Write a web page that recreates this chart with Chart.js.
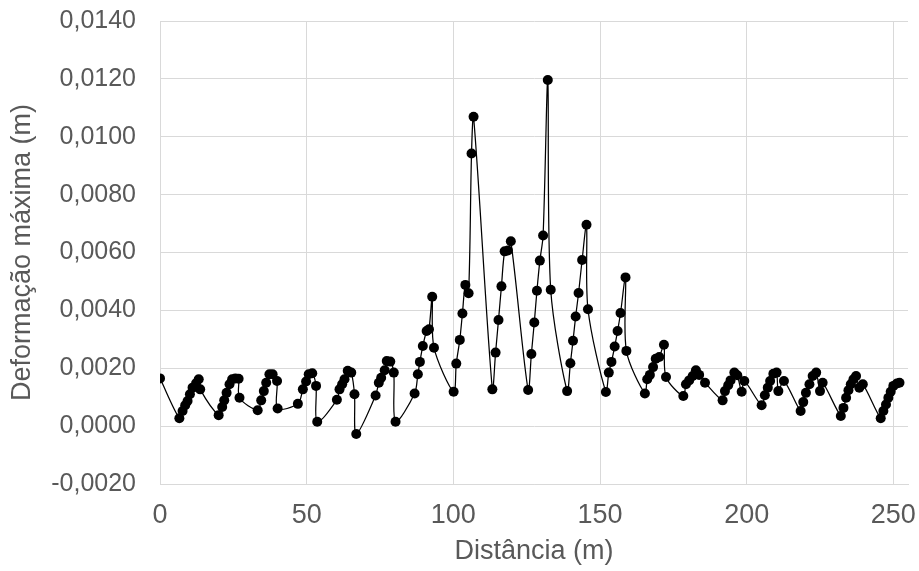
<!DOCTYPE html>
<html lang="pt">
<head>
<meta charset="utf-8">
<title>Deformação máxima</title>
<script src="https://cdn.jsdelivr.net/npm/chart.js"></script>
<style>
  html, body { margin: 0; padding: 0; background: #fff; }
</style>
</head>
<body>
<canvas id="graficoDeformacao" width="919" height="571"></canvas>
<script>
// distância ao longo da via (m)
const distancia = [
  0, 6.6, 7.7, 8.6, 9.4, 10.2, 11.1, 12.3, 13.2, 13.7,
  20.0, 21.2, 21.9, 22.7, 23.7, 24.6, 25.7, 26.8, 27.1,
  33.3, 34.5, 35.4, 36.2, 37.3, 38.4, 39.9, 40.1,
  47.0, 48.7, 49.8, 50.7, 51.9, 53.2, 53.6,
  60.3, 61.2, 62.1, 62.9, 64.0, 65.2, 66.3, 66.9,
  73.5, 74.6, 75.4, 76.6, 77.3, 78.5, 79.7, 80.3,
  86.8, 87.9, 88.6, 89.6, 90.9, 91.7, 92.8, 93.4,
  100.1, 101.0, 102.2, 103.1, 104.1, 105.2, 106.2, 106.9,
  113.3, 114.4, 115.4, 116.4, 117.5, 118.6, 119.6,
  125.5, 126.6, 127.6, 128.5, 129.5, 130.6, 132.2, 133.2,
  138.8, 139.9, 140.8, 141.7, 142.7, 143.9, 145.4, 145.9,
  152.0, 153.0, 153.9, 155.0, 156.0, 157.0, 158.7, 159.0,
  165.3, 166.1, 167.0, 168.1, 169.0, 170.2, 171.8, 172.5,
  178.4, 179.3, 180.4, 181.6, 182.7, 183.8, 185.8,
  191.8, 192.6, 193.7, 194.5, 195.8, 196.8, 198.3, 199.2,
  205.1, 206.2, 207.2, 208.0, 209.1, 210.2, 210.8, 212.7,
  218.4, 219.3, 220.2, 221.4, 222.5, 223.7, 225.0, 225.9,
  232.1, 233.0, 233.9, 234.7, 235.5, 236.4, 237.3, 238.4, 239.6,
  245.7, 246.6, 247.5, 248.3, 249.1, 250.0, 251.2, 252.1
];

// deformação máxima (m)
const deformacao = [
  0.00165, 0.00027, 0.00052, 0.00072, 0.00087, 0.0011, 0.00133, 0.00148, 0.00162, 0.00127,
  0.00038, 0.00066, 0.00089, 0.00115, 0.00145, 0.00162, 0.00165, 0.00164, 0.00098,
  0.00055, 0.00089, 0.00121, 0.0015, 0.00179, 0.00179, 0.00156, 0.00061,
  0.00077, 0.00127, 0.00154, 0.00179, 0.00183, 0.00139, 0.00015,
  0.00091, 0.00127, 0.00145, 0.00162, 0.00191, 0.00185, 0.0011, -0.00027,
  0.00106, 0.0015, 0.00167, 0.00193, 0.00225, 0.00223, 0.00185, 0.00015,
  0.00113, 0.00179, 0.00222, 0.00277, 0.00329, 0.00335, 0.00447, 0.00271,
  0.00119, 0.00216, 0.00298, 0.00389, 0.00488, 0.00459, 0.00942, 0.01069,
  0.00127, 0.00254, 0.00367, 0.00483, 0.00604, 0.00607, 0.00639,
  0.00125, 0.00249, 0.00358, 0.00468, 0.00572, 0.00659, 0.01196, 0.00471,
  0.00121, 0.00217, 0.00295, 0.00379, 0.0046, 0.00574, 0.00696, 0.00404,
  0.00118, 0.00185, 0.00222, 0.00275, 0.00329, 0.00391, 0.00514, 0.0026,
  0.00113, 0.00162, 0.00177, 0.00204, 0.00233, 0.00239, 0.00281, 0.0017,
  0.00104, 0.00145, 0.00158, 0.00173, 0.00193, 0.00177, 0.0015,
  0.00089, 0.00121, 0.00141, 0.00158, 0.00185, 0.00176, 0.00119, 0.00156,
  0.00072, 0.00107, 0.00133, 0.00156, 0.00181, 0.00185, 0.00121, 0.00156,
  0.00052, 0.00083, 0.00115, 0.00145, 0.00173, 0.00185, 0.00121, 0.0015,
  0.00035, 0.00063, 0.00098, 0.00124, 0.00145, 0.00162, 0.00173, 0.00133, 0.00145,
  0.00027, 0.00052, 0.00075, 0.00098, 0.00119, 0.00139, 0.00147, 0.0015
];

// marcas dos eixos
const ticksX = [0, 50, 100, 150, 200, 250];
const ticksY = [-0.002, 0, 0.002, 0.004, 0.006, 0.008, 0.010, 0.012, 0.014];

const corTexto = '#595959';
const corGrade = '#d9d9d9';
const familia = '"Liberation Sans", Arial, sans-serif';
const fonte = { family: familia, size: 27 };
const fonteY = { family: familia, size: 25 };

const pontos = distancia.map((d, i) => ({ x: d, y: deformacao[i] }));

window.addEventListener('DOMContentLoaded', () => {
  const ctx = document.getElementById('graficoDeformacao').getContext('2d');

  new Chart(ctx, {
    type: 'line',
    data: {
      datasets: [{
        data: pontos,
        borderColor: '#000',
        backgroundColor: '#000',
        borderWidth: 1.25,
        pointRadius: 5,
        pointBackgroundColor: '#000',
        pointBorderWidth: 0,
        tension: 0.3,
        fill: false
      }]
    },
    options: {
      responsive: false,
      animation: false,
      devicePixelRatio: 1,
      layout: { padding: { top: 21, right: 11, left: 0, bottom: 0 } },
      plugins: {
        legend: { display: false },
        tooltip: { enabled: false }
      },
      scales: {
        x: {
          type: 'linear',
          min: 0,
          max: 255,
          afterBuildTicks: (scale) => {
            scale.ticks = ticksX.map(v => ({ value: v }));
          },
          afterFit: (scale) => {
            scale.height = 87;
            scale.paddingLeft = 0;
            scale.paddingRight = 0;
          },
          ticks: {
            color: corTexto,
            font: fonte,
            padding: 15,
            maxRotation: 0,
            callback: (v) => String(v)
          },
          grid: { color: corGrade, drawTicks: false },
          border: { color: corGrade },
          title: {
            display: true,
            text: 'Distância (m)',
            color: corTexto,
            font: fonte,
            padding: { top: 0, bottom: 3 }
          }
        },
        y: {
          min: -0.002,
          max: 0.014,
          afterBuildTicks: (scale) => {
            scale.ticks = ticksY.map(v => ({ value: v }));
          },
          afterFit: (scale) => {
            scale.width = 160;
            scale.paddingTop = 0;
            scale.paddingBottom = 0;
          },
          ticks: {
            color: corTexto,
            font: fonteY,
            padding: 24,
            callback: (v) => v.toFixed(4).replace('.', ',')
          },
          grid: { color: corGrade, drawTicks: false },
          border: { color: corGrade },
          title: {
            display: true,
            text: 'Deformação máxima (m)',
            color: corTexto,
            font: fonte,
            padding: { top: 6, bottom: 0 }
          }
        }
      }
    }
  });
});
</script>
</body>
</html>
